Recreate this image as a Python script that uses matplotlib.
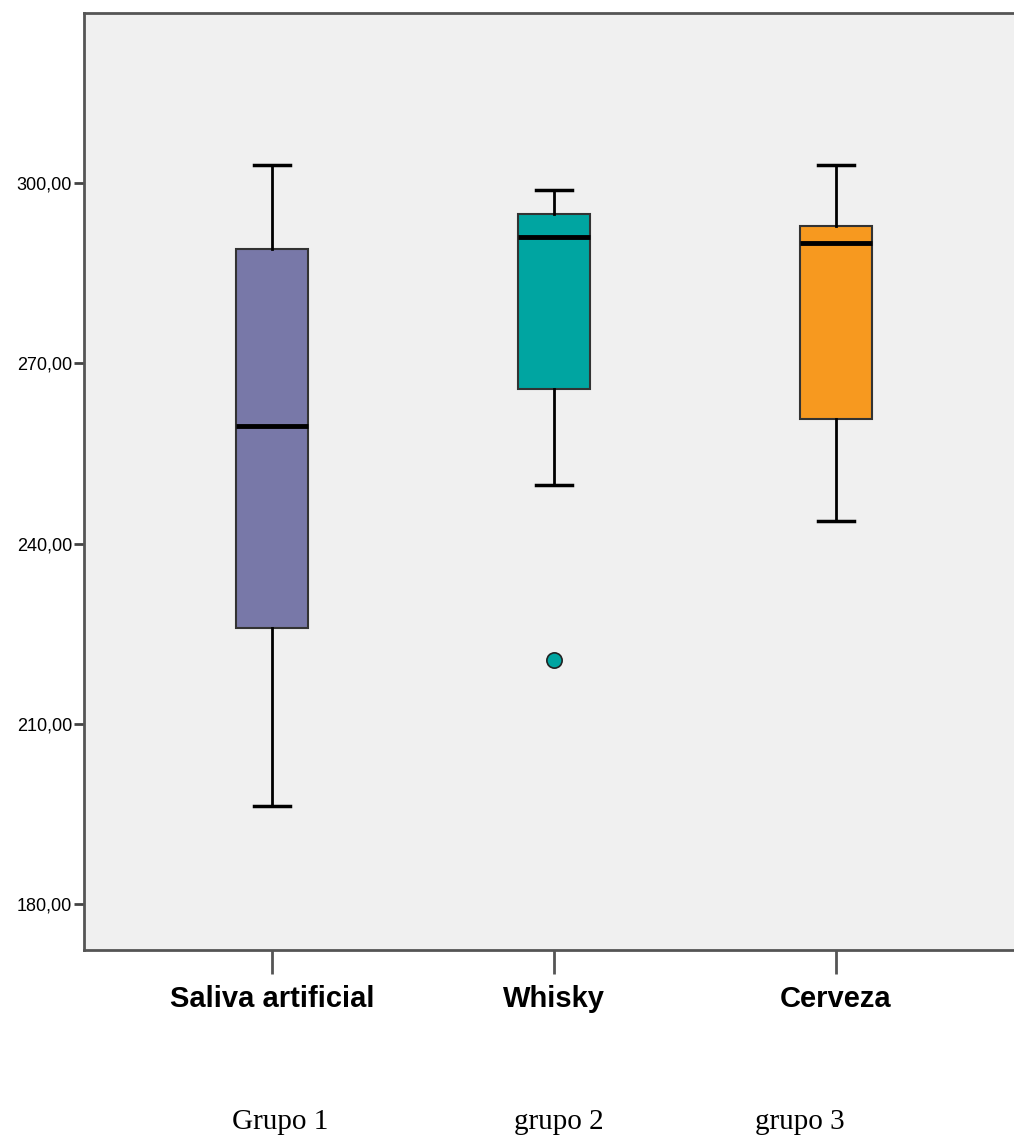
import matplotlib.pyplot as plt

groups = ["Saliva artificial", "Whisky", "Cerveza"]
captions = ["Grupo 1", "grupo 2", "grupo 3"]
whis_lo = [196.3, 249.8, 243.8]
q1 = [225.9, 265.8, 260.8]
med = [259.5, 291.0, 290.0]
q3 = [289.1, 294.9, 292.9]
whis_hi = [303.0, 298.8, 303.0]
outliers = [[], [220.6], []]
colors = ["#7878a8", "#00a5a1", "#f7991f"]

fig = plt.figure(figsize=(10.14, 11.4), dpi=100)
ax = fig.add_axes([84 / 1014, 1 - 950 / 1140, 940 / 1014, 937 / 1140])
ax.set_facecolor("#f0f0f0")

stats = []
for i in range(len(groups)):
    stats.append(dict(whislo=whis_lo[i], q1=q1[i], med=med[i], q3=q3[i],
                      whishi=whis_hi[i], fliers=outliers[i]))

pos = [1, 2, 3]
bp = ax.bxp(stats, positions=pos, widths=0.252, patch_artist=True,
            boxprops=dict(edgecolor="#333333", linewidth=1.5),
            medianprops=dict(color="black", linewidth=3.5),
            whiskerprops=dict(color="black", linewidth=2),
            capprops=dict(color="black", linewidth=2.5),
            capwidths=0.125,
            flierprops=dict(marker="o", markersize=11, markeredgecolor="#222222",
                            markeredgewidth=1.2))
for box, c in zip(bp["boxes"], colors):
    box.set_facecolor(c)
for fl, c in zip(bp["fliers"], colors):
    fl.set_markerfacecolor(c)

ax.set_xlim(1 - 188 / 282, 3 + 188 / 282)
ax.set_ylim(172.35, 328.3)
ax.set_yticks([180, 210, 240, 270, 300])
ax.set_yticklabels(["180,00", "210,00", "240,00", "270,00", "300,00"],
                   family="Liberation Sans", fontsize=13)
ax.set_xticks(pos)
ax.set_xticklabels(groups, family="Liberation Sans", fontsize=21, fontweight="bold")
ax.tick_params(axis="y", length=7.5, width=2, color="#444444", pad=1)
ax.tick_params(axis="x", length=17, width=2, color="#555555", pad=8)
for s in ax.spines.values():
    s.set_color("#555555")
    s.set_linewidth(2)

for x, t in zip([280, 559, 800], captions):
    fig.text(x / 1014, 1 - 1129 / 1140, t, ha="center", va="baseline",
             family="Liberation Serif", fontsize=21)

fig.savefig("out.png")
